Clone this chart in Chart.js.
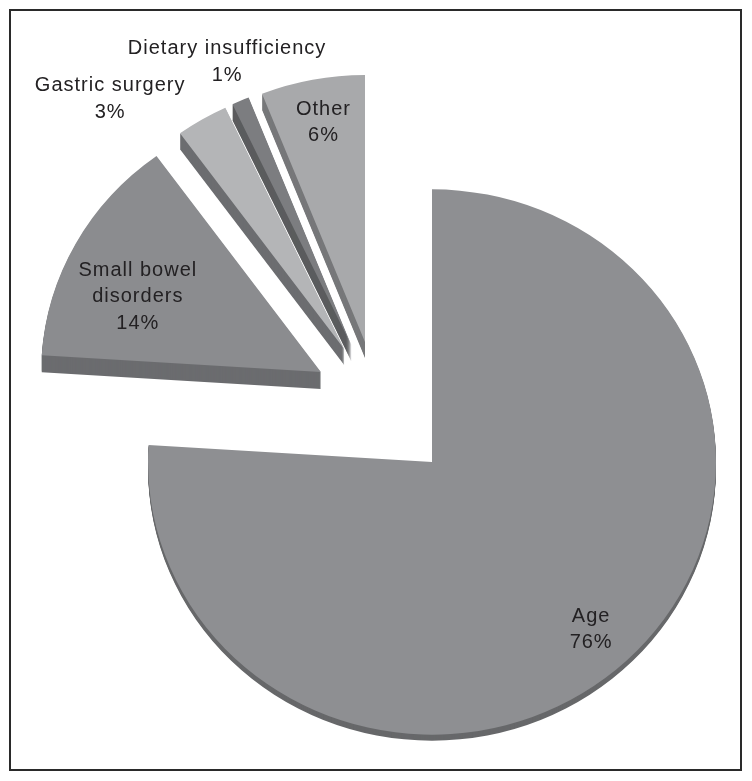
<!DOCTYPE html>
<html><head><meta charset="utf-8">
<script src="https://cdn.jsdelivr.net/npm/chart.js@4/dist/chart.umd.min.js"></script>
<style>html,body{margin:0;padding:0;background:#fff;} canvas{display:block;}</style>
</head><body>
<canvas id="c" width="752" height="781"></canvas>
<script>
// ---- data ----
const categories = ['Age', 'Small bowel disorders', 'Gastric surgery', 'Dietary insufficiency', 'Other'];
const labelLines = [['Age'], ['Small bowel', 'disorders'], ['Gastric surgery'], ['Dietary insufficiency'], ['Other']];
const values = [76, 14, 3, 1, 6];

// ---- styles ----
const topColors  = ['#8e8f92', '#8b8c8f', '#b4b5b7', '#7c7d80', '#a8a9ab'];
const sideColors = ['#67686a', '#6b6c6f', '#6c6d70', '#5b5c5e', '#77787a'];
const explodeDist = [0, 64, 64, 64, 64];
const sideDepth   = [6, 17, 16, 16, 16];
const scaleX      = [1, 0.985, 0.985, 0.985, 0.985];
const scaleY      = [0.96, 0.94, 0.94, 0.94, 0.94];
const labelRadius = [0.83, 0.705, 1.25, 1.15, 0.835];
const labelTurnDeg = [0.9, -5.3, -10.8, 0.9, 0.6];

const pie3d = {
  id: 'pie3d',
  beforeDatasetDraw(chart, args, opts) {
    const ctx = chart.ctx;
    const els = args.meta.data;
    const offs = els.map((el, i) => {
      const e = explodeDist[i];
      if (!e) return [0, 0];
      const mid = (el.startAngle + el.endAngle) / 2;
      return [opts.shiftX + e * Math.cos(mid), opts.shiftY + e * Math.sin(mid) * scaleY[i]];
    });
    chart.$offs = offs;
    const tr = (el, i, dx, dy) => {
      ctx.translate(dx, dy);
      ctx.translate(el.x, el.y);
      ctx.scale(scaleX[i], scaleY[i]);
      ctx.translate(-el.x, -el.y);
    };
    // side faces
    els.forEach((el, i) => {
      const d = sideDepth[i];
      for (let j = d; j >= 1; j--) {
        ctx.save();
        tr(el, i, offs[i][0], offs[i][1] + j);
        ctx.beginPath();
        ctx.moveTo(el.x, el.y);
        ctx.arc(el.x, el.y, el.outerRadius, el.startAngle, el.endAngle);
        ctx.closePath();
        ctx.fillStyle = sideColors[i];
        ctx.fill();
        ctx.restore();
      }
    });
    // top faces
    els.forEach((el, i) => {
      ctx.save();
      tr(el, i, offs[i][0], offs[i][1]);
      el.draw(ctx);
      ctx.restore();
    });
    return false;
  },
  afterDatasetsDraw(chart, args, opts) {
    const ctx = chart.ctx;
    const els = chart.getDatasetMeta(0).data;
    const offs = chart.$offs;
    ctx.save();
    ctx.font = '20px "Liberation Sans", Arial, sans-serif';
    try { ctx.letterSpacing = '1px'; } catch (e) {}
    ctx.fillStyle = '#232123';
    ctx.textAlign = 'center';
    ctx.textBaseline = 'middle';
    els.forEach((el, i) => {
      const mid = (el.startAngle + el.endAngle) / 2 + labelTurnDeg[i] * Math.PI / 180;
      const ax = el.x + offs[i][0], ay = el.y + offs[i][1];
      const px = ax + labelRadius[i] * el.outerRadius * Math.cos(mid);
      const py = ay + labelRadius[i] * el.outerRadius * Math.sin(mid) * scaleY[i];
      const lines = labelLines[i].concat([values[i] + '%']);
      const lh = 26.5;
      lines.forEach((t, k) => {
        ctx.fillText(t, px + 0.5, py + (k - (lines.length - 1) / 2) * lh);
      });
    });
    ctx.restore();
  },
  afterDraw(chart) {
    const ctx = chart.ctx;
    ctx.save();
    ctx.strokeStyle = '#2a2a2a';
    ctx.lineWidth = 2;
    ctx.strokeRect(10, 10, 731, 760);
    ctx.restore();
  }
};

new Chart(document.getElementById('c'), {
  type: 'pie',
  data: {
    labels: categories,
    datasets: [{
      data: values,
      backgroundColor: topColors,
      borderWidth: 0
    }]
  },
  options: {
    responsive: false,
    animation: false,
    radius: 284,
    layout: { padding: { left: 112, right: 0, top: 143, bottom: 0 } },
    plugins: {
      legend: { display: false },
      tooltip: { enabled: false },
      pie3d: { shiftX: -55, shiftY: -61 }
    },
    events: []
  },
  plugins: [pie3d]
});
</script>
</body></html>
